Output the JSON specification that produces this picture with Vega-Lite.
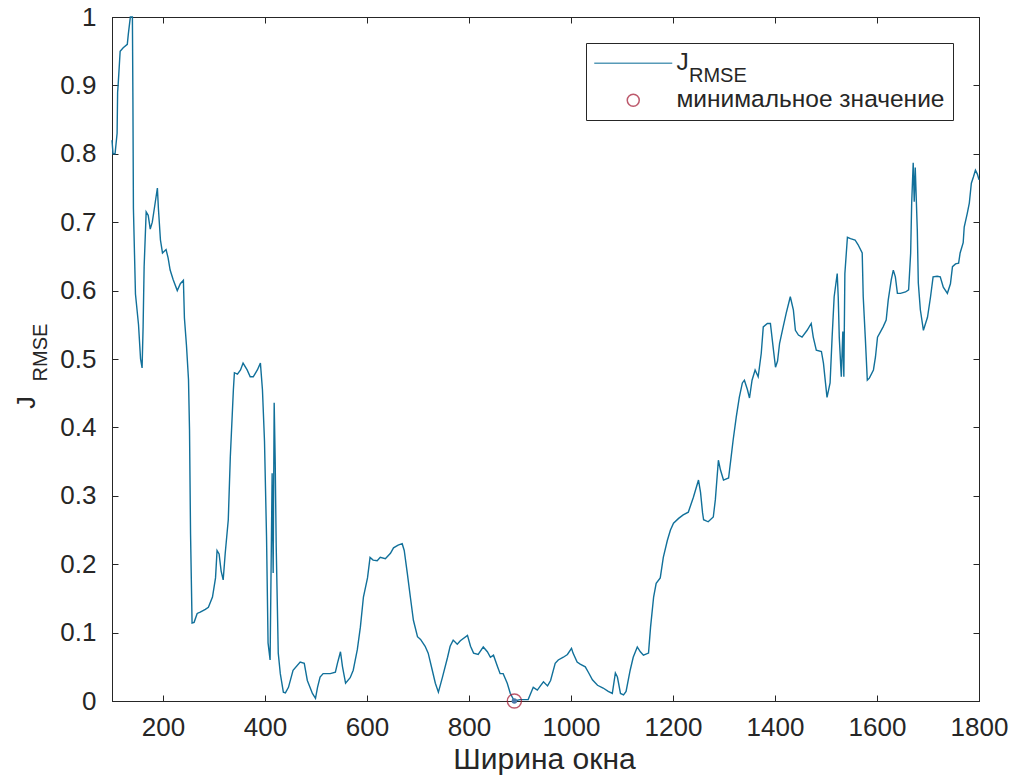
{
  "$schema": "https://vega.github.io/schema/vega-lite/v6.json",
  "width": 867,
  "height": 684,
  "autosize": {"type": "none"},
  "padding": {"left": 112, "top": 17, "right": 37, "bottom": 81},
  "background": "white",
  "config": {
    "font": "Liberation Sans",
    "view": {"stroke": "#262626", "strokeWidth": 1},
    "axis": {
      "domainColor": "#262626",
      "tickColor": "#262626",
      "labelColor": "#262626",
      "titleColor": "#262626",
      "grid": false,
      "labelFont": "Liberation Sans",
      "titleFont": "Liberation Sans",
      "titleFontWeight": "normal"
    },
    "legend": {"labelFont": "Liberation Sans", "labelLimit": 500}
  },
  "datasets": {
    "curve": [
      {"w":100,"j":0.82},{"w":102,"j":0.80},{"w":106,"j":0.80},{"w":110,"j":0.83},{"w":111,"j":0.89},{"w":112,"j":0.90},{"w":116,"j":0.95},{"w":122,"j":0.955},{"w":130,"j":0.96},{"w":132,"j":0.975},{"w":136,"j":1.0},{"w":140,"j":1.0},{"w":141,"j":0.88},{"w":142,"j":0.72},{"w":146,"j":0.595},{"w":152,"j":0.55},{"w":156,"j":0.50},{"w":159,"j":0.487},{"w":161,"j":0.547},{"w":163,"j":0.635},{"w":167,"j":0.715},{"w":171,"j":0.71},{"w":175,"j":0.69},{"w":179,"j":0.70},{"w":183,"j":0.72},{"w":189,"j":0.75},{"w":191,"j":0.72},{"w":195,"j":0.674},{"w":199,"j":0.655},{"w":206,"j":0.66},{"w":210,"j":0.648},{"w":214,"j":0.63},{"w":220,"j":0.616},{"w":228,"j":0.60},{"w":234,"j":0.61},{"w":240,"j":0.615},{"w":242,"j":0.56},{"w":246,"j":0.52},{"w":250,"j":0.47},{"w":252,"j":0.396},{"w":254,"j":0.245},{"w":257,"j":0.114},{"w":261,"j":0.115},{"w":267,"j":0.128},{"w":273,"j":0.13},{"w":283,"j":0.134},{"w":289,"j":0.137},{"w":297,"j":0.152},{"w":303,"j":0.18},{"w":306,"j":0.22},{"w":310,"j":0.215},{"w":314,"j":0.19},{"w":318,"j":0.177},{"w":322,"j":0.216},{"w":328,"j":0.265},{"w":332,"j":0.357},{"w":338,"j":0.455},{"w":340,"j":0.48},{"w":346,"j":0.478},{"w":352,"j":0.484},{"w":357,"j":0.494},{"w":365,"j":0.484},{"w":371,"j":0.474},{"w":377,"j":0.474},{"w":385,"j":0.484},{"w":391,"j":0.494},{"w":395,"j":0.455},{"w":399,"j":0.38},{"w":403,"j":0.24},{"w":406,"j":0.085},{"w":410,"j":0.06},{"w":414,"j":0.333},{"w":416,"j":0.187},{"w":418,"j":0.436},{"w":420,"j":0.35},{"w":422,"j":0.225},{"w":426,"j":0.07},{"w":430,"j":0.04},{"w":436,"j":0.013},{"w":440,"j":0.012},{"w":446,"j":0.02},{"w":455,"j":0.045},{"w":469,"j":0.057},{"w":477,"j":0.055},{"w":483,"j":0.03},{"w":493,"j":0.011},{"w":499,"j":0.004},{"w":503,"j":0.02},{"w":508,"j":0.035},{"w":514,"j":0.04},{"w":528,"j":0.04},{"w":538,"j":0.042},{"w":542,"j":0.055},{"w":548,"j":0.072},{"w":552,"j":0.05},{"w":558,"j":0.026},{"w":567,"j":0.034},{"w":573,"j":0.045},{"w":581,"j":0.075},{"w":587,"j":0.108},{"w":593,"j":0.152},{"w":601,"j":0.18},{"w":606,"j":0.21},{"w":612,"j":0.206},{"w":620,"j":0.205},{"w":626,"j":0.21},{"w":636,"j":0.208},{"w":646,"j":0.216},{"w":652,"j":0.224},{"w":661,"j":0.228},{"w":669,"j":0.23},{"w":673,"j":0.22},{"w":679,"j":0.187},{"w":685,"j":0.152},{"w":691,"j":0.118},{"w":699,"j":0.094},{"w":705,"j":0.09},{"w":714,"j":0.08},{"w":720,"j":0.07},{"w":728,"j":0.045},{"w":734,"j":0.026},{"w":740,"j":0.013},{"w":748,"j":0.035},{"w":758,"j":0.064},{"w":763,"j":0.08},{"w":769,"j":0.089},{"w":777,"j":0.083},{"w":783,"j":0.088},{"w":797,"j":0.096},{"w":803,"j":0.08},{"w":809,"j":0.07},{"w":818,"j":0.068},{"w":828,"j":0.079},{"w":836,"j":0.072},{"w":842,"j":0.064},{"w":848,"j":0.067},{"w":856,"j":0.05},{"w":861,"j":0.04},{"w":867,"j":0.04},{"w":875,"j":0.026},{"w":881,"j":0.011},{"w":889,"j":0.0},{"w":900,"j":0.002},{"w":916,"j":0.002},{"w":926,"j":0.02},{"w":934,"j":0.016},{"w":940,"j":0.022},{"w":946,"j":0.028},{"w":954,"j":0.022},{"w":960,"j":0.03},{"w":969,"j":0.055},{"w":975,"j":0.06},{"w":985,"j":0.064},{"w":993,"j":0.068},{"w":1001,"j":0.077},{"w":1004,"j":0.07},{"w":1012,"j":0.057},{"w":1018,"j":0.054},{"w":1028,"j":0.05},{"w":1034,"j":0.042},{"w":1042,"j":0.031},{"w":1052,"j":0.023},{"w":1063,"j":0.019},{"w":1073,"j":0.014},{"w":1081,"j":0.011},{"w":1087,"j":0.041},{"w":1091,"j":0.035},{"w":1097,"j":0.011},{"w":1103,"j":0.009},{"w":1108,"j":0.014},{"w":1116,"j":0.045},{"w":1122,"j":0.064},{"w":1130,"j":0.079},{"w":1136,"j":0.072},{"w":1142,"j":0.067},{"w":1152,"j":0.07},{"w":1156,"j":0.108},{"w":1162,"j":0.152},{"w":1167,"j":0.172},{"w":1175,"j":0.18},{"w":1181,"j":0.21},{"w":1189,"j":0.235},{"w":1195,"j":0.25},{"w":1201,"j":0.26},{"w":1211,"j":0.267},{"w":1220,"j":0.272},{"w":1230,"j":0.276},{"w":1240,"j":0.298},{"w":1250,"j":0.323},{"w":1254,"j":0.305},{"w":1258,"j":0.275},{"w":1260,"j":0.265},{"w":1269,"j":0.262},{"w":1279,"j":0.269},{"w":1283,"j":0.294},{"w":1289,"j":0.352},{"w":1293,"j":0.338},{"w":1299,"j":0.323},{"w":1309,"j":0.326},{"w":1314,"j":0.357},{"w":1318,"j":0.382},{"w":1324,"j":0.415},{"w":1330,"j":0.444},{"w":1336,"j":0.465},{"w":1340,"j":0.469},{"w":1346,"j":0.455},{"w":1350,"j":0.443},{"w":1355,"j":0.469},{"w":1361,"j":0.484},{"w":1367,"j":0.474},{"w":1373,"j":0.508},{"w":1377,"j":0.547},{"w":1385,"j":0.552},{"w":1391,"j":0.552},{"w":1397,"j":0.513},{"w":1401,"j":0.488},{"w":1405,"j":0.497},{"w":1409,"j":0.523},{"w":1416,"j":0.547},{"w":1422,"j":0.567},{"w":1430,"j":0.591},{"w":1436,"j":0.572},{"w":1440,"j":0.542},{"w":1446,"j":0.535},{"w":1453,"j":0.532},{"w":1463,"j":0.542},{"w":1471,"j":0.552},{"w":1475,"j":0.532},{"w":1481,"j":0.513},{"w":1491,"j":0.511},{"w":1495,"j":0.494},{"w":1499,"j":0.465},{"w":1502,"j":0.444},{"w":1508,"j":0.465},{"w":1512,"j":0.532},{"w":1516,"j":0.591},{"w":1522,"j":0.625},{"w":1524,"j":0.59},{"w":1526,"j":0.532},{"w":1530,"j":0.474},{"w":1533,"j":0.54},{"w":1535,"j":0.474},{"w":1537,"j":0.625},{"w":1542,"j":0.678},{"w":1548,"j":0.676},{"w":1557,"j":0.674},{"w":1563,"j":0.667},{"w":1571,"j":0.655},{"w":1573,"j":0.591},{"w":1577,"j":0.532},{"w":1581,"j":0.469},{"w":1585,"j":0.472},{"w":1593,"j":0.484},{"w":1597,"j":0.503},{"w":1601,"j":0.532},{"w":1607,"j":0.54},{"w":1612,"j":0.547},{"w":1618,"j":0.557},{"w":1622,"j":0.586},{"w":1628,"j":0.616},{"w":1632,"j":0.63},{"w":1636,"j":0.62},{"w":1640,"j":0.596},{"w":1646,"j":0.596},{"w":1656,"j":0.598},{"w":1662,"j":0.601},{"w":1666,"j":0.655},{"w":1668,"j":0.728},{"w":1671,"j":0.787},{"w":1673,"j":0.73},{"w":1675,"j":0.78},{"w":1679,"j":0.689},{"w":1681,"j":0.611},{"w":1685,"j":0.572},{"w":1691,"j":0.542},{"w":1699,"j":0.561},{"w":1705,"j":0.591},{"w":1710,"j":0.62},{"w":1718,"j":0.621},{"w":1724,"j":0.62},{"w":1730,"j":0.605},{"w":1738,"j":0.596},{"w":1744,"j":0.61},{"w":1748,"j":0.635},{"w":1754,"j":0.639},{"w":1760,"j":0.64},{"w":1763,"j":0.655},{"w":1769,"j":0.67},{"w":1771,"j":0.693},{"w":1777,"j":0.713},{"w":1781,"j":0.728},{"w":1785,"j":0.757},{"w":1789,"j":0.766},{"w":1793,"j":0.776},{"w":1797,"j":0.77},{"w":1800,"j":0.762}
    ],
    "minimum": [{"w": 889, "j": 0, "series": "минимальное значение"}]
  },
  "resolve": {"axis": {"x": "independent", "y": "independent"}},
  "layer": [
    {
      "data": {"name": "curve"},
      "mark": {"type": "line", "color": "#11709a", "strokeWidth": 1.4},
      "encoding": {
        "x": {
          "field": "w", "type": "quantitative",
          "scale": {"domain": [100, 1800], "nice": false, "zero": false},
          "axis": {
            "orient": "bottom",
            "values": [200, 400, 600, 800, 1000, 1200, 1400, 1600, 1800],
            "format": "d",
            "tickSize": -6,
            "labelPadding": 19,
            "labelFontSize": 26,
            "labelFlush": false,
            "title": "Ширина окна",
            "titleFontSize": 30,
            "titleX": 432,
            "titleY": 58,
            "titleBaseline": "middle",
            "titleAlign": "center"
          }
        },
        "y": {
          "field": "j", "type": "quantitative",
          "scale": {"domain": [0, 1], "nice": false, "zero": false},
          "axis": {
            "orient": "left",
            "values": [0, 0.1, 0.2, 0.3, 0.4, 0.5, 0.6, 0.7, 0.8, 0.9, 1],
            "format": "~g",
            "tickSize": -6,
            "labelPadding": 22,
            "labelFontSize": 26,
            "labelFlush": false,
            "title": "J",
            "titleFontSize": 25,
            "titleX": -86,
            "titleY": 385,
            "titleAngle": -90,
            "titleAlign": "center",
            "titleBaseline": "middle"
          }
        }
      }
    },
    {
      "data": {"name": "minimum"},
      "mark": {"type": "point", "filled": false, "strokeWidth": 1.4, "size": 200},
      "encoding": {
        "x": {
          "field": "w", "type": "quantitative",
          "axis": {
            "orient": "top",
            "values": [200, 400, 600, 800, 1000, 1200, 1400, 1600, 1800],
            "labels": false,
            "tickSize": -6,
            "title": null
          }
        },
        "y": {
          "field": "j", "type": "quantitative",
          "axis": {
            "orient": "right",
            "values": [0, 0.1, 0.2, 0.3, 0.4, 0.5, 0.6, 0.7, 0.8, 0.9, 1],
            "labels": false,
            "tickSize": -6,
            "title": null
          }
        },
        "color": {
          "field": "series", "type": "nominal",
          "scale": {"domain": ["J_RMSE", "минимальное значение"], "range": ["#11709a", "#A2142F"]},
          "legend": {
            "title": null,
            "orient": "top-right",
            "offset": 26,
            "padding": 8,
            "rowPadding": 12,
            "strokeColor": "#262626",
            "fillColor": "white",
            "cornerRadius": 0,
            "symbolSize": 144,
            "symbolStrokeWidth": 1.5,
            "symbolOffset": 27,
            "labelOffset": 31,
            "labelFontSize": 24.5,
            "labelColor": "#262626",
            "labelExpr": "datum.label == 'J_RMSE' ? 'J' : datum.label"
          }
        },
        "shape": {
          "field": "series", "type": "nominal",
          "scale": {"domain": ["J_RMSE", "минимальное значение"], "range": ["M-6.5,0H6.5", "circle"]},
          "legend": {
            "title": null,
            "orient": "top-right",
            "offset": 26,
            "padding": 8,
            "rowPadding": 12,
            "strokeColor": "#262626",
            "fillColor": "white",
            "cornerRadius": 0,
            "symbolSize": 144,
            "symbolStrokeWidth": 1.5,
            "symbolOffset": 27,
            "labelOffset": 31,
            "labelFontSize": 24.5,
            "labelColor": "#262626",
            "labelExpr": "datum.label == 'J_RMSE' ? 'J' : datum.label"
          }
        }
      }
    },
    {
      "data": {"name": "minimum"},
      "mark": {"type": "point", "filled": true},
      "encoding": {
        "x": {"field": "w", "type": "quantitative", "axis": null},
        "y": {
          "field": "j", "type": "quantitative",
          "axis": {
            "orient": "left",
            "labels": false,
            "ticks": false,
            "domain": false,
            "title": "RMSE",
            "titleFontSize": 20,
            "titleX": -72,
            "titleY": 335,
            "titleAngle": -90,
            "titleAlign": "center",
            "titleBaseline": "middle"
          }
        },
        "opacity": {
          "datum": "RMSE", "type": "nominal",
          "scale": {"domain": ["RMSE"], "range": [0]},
          "legend": {
            "title": null,
            "orient": "none",
            "legendX": 557,
            "legendY": 49,
            "padding": 0,
            "symbolSize": 0,
            "symbolOpacity": 0,
            "labelOffset": 0,
            "labelFontSize": 20,
            "labelColor": "#262626"
          }
        }
      }
    }
  ]
}
